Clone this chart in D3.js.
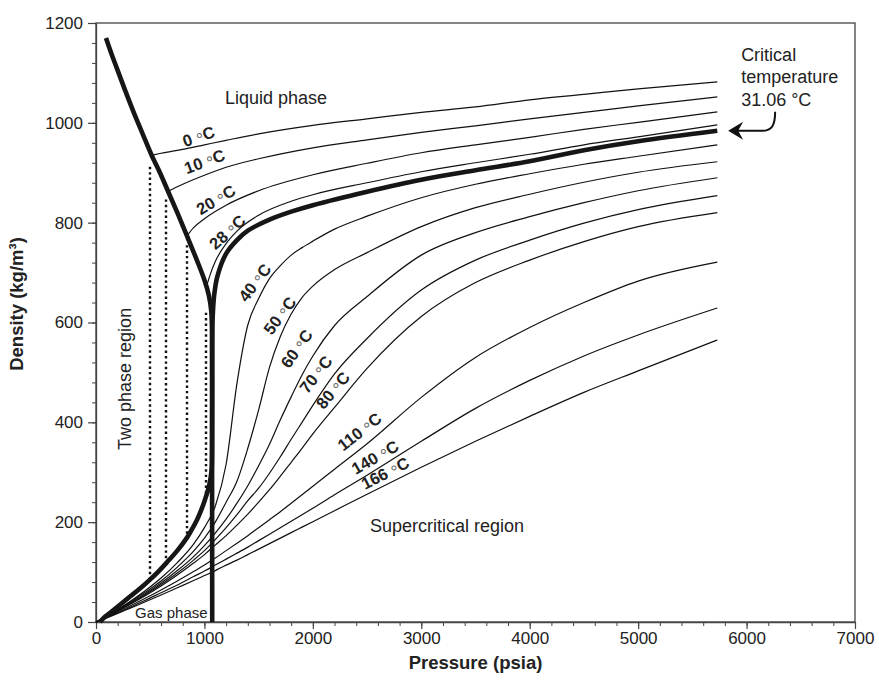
<!DOCTYPE html>
<html><head><meta charset="utf-8">
<script src="https://cdn.jsdelivr.net/npm/d3@7"></script>
<style>
body{margin:0;background:#fff;}
text{font-family:"Liberation Sans",Arial,Helvetica,sans-serif;fill:#222;}
</style></head><body>
<svg id="chart" width="879" height="684"></svg>
<script>
// pressures (psia) for the supercritical isotherms
var pressures=[0,150,300,450,600,750,900,1000,1100,1200,1300,1400,1500,1600,1700,1800,1900,2000,2200,2500,3000,3500,4000,4500,5000,5730];
var rho40=[0,18.5,39,62,88,119,156,189,232,316,478,595,648,688,714,735,750,763,787,813,850,877,898,917,933,956];
var rho50=[0,17.8,37.5,59,82,110,142,168,200,240,282,348,425,510,572,617,650,673,706,740,792,830,857,881,901,922];
var rho60=[0,17.2,36,56,78,103,131,153,178,206,238,273,313,356,405,451,495,533,594,652,735,780,812,840,864,890];
var rho70=[0,16.7,34.8,54,75,98,124,143,165,189,215,243,268,298,331,366,400,434,497,568,665,725,765,799,826,854];
var rho80=[0,16.1,33.5,52,72,94,118,135,154,173,194,216,240,265,292,320,348,377,430,508,612,680,725,762,792,820];
var rho110=[0,14.8,30.6,47,64,82,101,114,128,143,158,173,189,205,221,238,255,272,306,357,450,530,590,640,683,721];
var rho140=[0,13.7,28.2,43,58.5,74,91,102,114,126,138,150,163,176,189,202,215,228,255,294,362,428,484,533,575,629];
var rho166=[0,12.8,26.3,40,54,68.5,83,93,103,114,124,135,146,157,168,179,190,201,223,256,310,362,412,460,503,565];
var superSeries=[rho40,rho50,rho60,rho70,rho80,rho110,rho140,rho166];

// liquid isotherms [psia, kg/m3], starting on the saturated liquid line
var liq0=[[513,935],[600,939],[800,947],[1000,956],[1200,965],[1500,978],[2000,995],[2500,1008],[3000,1021],[3500,1032],[4000,1046],[4500,1057],[5000,1068],[5730,1082]];
var liq10=[[666,863],[800,877],[1000,895],[1200,911],[1500,928],[2000,950],[2500,966],[3000,981],[3500,994],[4000,1008],[4500,1021],[5000,1034],[5730,1052]];
var liq20=[[841,774],[900,790],[1000,808],[1200,835],[1500,864],[2000,896],[2500,919],[3000,940],[3500,956],[4000,971],[4500,987],[5000,1001],[5730,1022]];
var liq28=[[1019,672],[1050,694],[1100,722],[1200,758],[1300,783],[1500,815],[1800,843],[2000,856],[2500,880],[3000,902],[3500,920],[4000,937],[4500,956],[5000,972],[5730,996]];
var liqSeries=[liq0,liq10,liq20,liq28];

// critical isotherm 31.06 C
var critIso=[[1072,0],[1072,560],[1076,610],[1090,655],[1120,693],[1200,738],[1300,765],[1400,784],[1600,806],[1800,822],[2000,835],[2500,862],[3000,886],[3500,905],[4000,923],[4500,945],[5000,963],[5730,984]];
// saturation dome: liquid branch down, vapour branch back to origin
var satDome=[[92,1170],[140,1140],[191,1110],[260,1070],[344,1023],[430,978],[513,935],[590,900],[666,862],[750,820],[840,773],[930,725],[1000,685],[1040,655],[1062,625],[1069,595],[1070,560],
  [1070,340],[1066,305],[1052,282],[1030,262],[1005,245],[970,224],[930,204],[880,184],[836,168],[750,143],[652,119],[575,101],[498,85],[400,66],[314,51],[230,36],[150,22],[80,10],[37,0]];
// tie lines: psia, vapour density, liquid density
var tieLines=[[498,85,918],[645,117,852],[838,166,758],[1010,247,622]];

var xTicks=d3.range(0,7001,1000);
var yTicks=d3.range(0,1201,200);

// label names and where they sit (data units, angle)
var isoLabels=[["0",959,965,-19],["10",1014,915,-20],["20",1125,839,-31],["28",1236,775,-42],
  ["40",1494,675,-53],["50",1725,609,-53],["60",1881,543,-55],["70",2057,491,-52],
  ["80",2213,459,-50],["110",2453,375,-38],["140",2592,323,-30],["166",2684,291,-27]];

var svg=d3.select("#chart");
var x=d3.scaleLinear().domain([0,7000]).range([96,855]);
var y=d3.scaleLinear().domain([0,1200]).range([622,23]);

var smooth=d3.line().x(function(d){return x(d[0]);}).y(function(d){return y(d[1]);}).curve(d3.curveMonotoneX);
var loose=d3.line().x(function(d){return x(d[0]);}).y(function(d){return y(d[1]);}).curve(d3.curveCatmullRom.alpha(0.5));

// frame
svg.append("rect").attr("x",x(0)).attr("y",y(1200)).attr("width",x(7000)-x(0)).attr("height",y(0)-y(1200))
  .attr("fill","none").attr("stroke","#444").attr("stroke-width",1.3);

// minor ticks
svg.append("g").attr("transform","translate(0,"+y(0)+")")
  .call(d3.axisBottom(x).tickValues(d3.range(0,7001,200)).tickSize(4).tickFormat(""))
  .call(function(g){g.select(".domain").remove();g.selectAll("line").attr("stroke","#444");});
svg.append("g").attr("transform","translate("+x(0)+",0)")
  .call(d3.axisLeft(y).tickValues(d3.range(0,1201,40)).tickSize(4).tickFormat(""))
  .call(function(g){g.select(".domain").remove();g.selectAll("line").attr("stroke","#444");});

var xa=svg.append("g").attr("transform","translate(0,"+y(0)+")")
  .call(d3.axisBottom(x).tickValues(xTicks).tickSize(7).tickPadding(3).tickSizeOuter(0).tickFormat(d3.format("d")));
var ya=svg.append("g").attr("transform","translate("+x(0)+",0)")
  .call(d3.axisLeft(y).tickValues(yTicks).tickSize(8).tickPadding(5).tickSizeOuter(0).tickFormat(d3.format("d")));
[xa,ya].forEach(function(a){
  a.select(".domain").attr("stroke","#444").attr("stroke-width",1.3);
  a.selectAll("line").attr("stroke","#444").attr("stroke-width",1.2);
  a.selectAll("text").style("font-size","17px").style("font-family","Liberation Sans,Arial,sans-serif").attr("fill","#222");
});

// thin isotherms
superSeries.forEach(function(s){
  svg.append("path").datum(pressures.map(function(p,i){return [p,s[i]];}))
    .attr("d",smooth).attr("fill","none").attr("stroke","#111").attr("stroke-width",1.2);
});
liqSeries.forEach(function(s){
  svg.append("path").datum(s).attr("d",smooth).attr("fill","none").attr("stroke","#111").attr("stroke-width",1.2);
});

// dotted tie lines
svg.selectAll(".tie").data(tieLines).enter().append("line").attr("class","tie")
  .attr("x1",function(d){return Math.round(x(d[0]));}).attr("x2",function(d){return Math.round(x(d[0]));})
  .attr("y1",function(d){return y(d[1]);}).attr("y2",function(d){return y(d[2]);})
  .attr("stroke","#111").attr("stroke-width",2.4).attr("stroke-dasharray","2.4,3");

// thick curves
svg.append("path").datum(satDome).attr("d",loose).attr("fill","none").attr("stroke","#161616").attr("stroke-width",4.6).attr("stroke-linejoin","round");
svg.append("path").datum(critIso).attr("d",loose).attr("fill","none").attr("stroke","#161616").attr("stroke-width",4.6);

// isotherm labels
isoLabels.forEach(function(l){
  var t=svg.append("text").attr("text-anchor","middle")
    .attr("transform","translate("+x(l[1])+","+y(l[2])+") rotate("+l[3]+") translate(0,-4)")
    .attr("dy","0.35em").style("font-size","16.5px").style("font-weight","bold");
  t.append("tspan").text(l[0]+" ");
  t.append("tspan").text("\u00b0").attr("dy",3.5).style("font-weight","normal").style("font-size","18px").style("fill","#666");
  t.append("tspan").text("C").attr("dy",-3.5);
});

// region texts
function note(txt,p,d,size,anchor,rot){
  var t=svg.append("text").text(txt).style("font-size",size+"px").attr("text-anchor",anchor||"start");
  if(rot) t.attr("transform","translate("+x(p)+","+y(d)+") rotate("+rot+")");
  else t.attr("x",x(p)).attr("y",y(d));
  return t;
}
note("Liquid phase",1190,1037,18);
note("Supercritical region",2527,181,18);
note("Gas phase",360,9,15);
note("Two phase region",323,487,18,"middle",-90);

// critical temperature callout
var tx=x(5830), ty=y(984);
["Critical","temperature","31.06 \u00b0C"].forEach(function(s,i){
  svg.append("text").text(s).attr("x",tx+13).attr("y",ty-70+i*22.5).style("font-size","18px");
});
svg.append("path").attr("d","M"+(tx+8)+","+ty+" L"+(tx+34)+","+ty+" C"+(tx+44)+","+ty+" "+(tx+47)+","+(ty-6)+" "+(tx+47)+","+(ty-19))
  .attr("fill","none").attr("stroke","#111").attr("stroke-width",2);
svg.append("path").attr("d","M"+tx+","+ty+" L"+(tx+15)+","+(ty-9)+" L"+(tx+10)+","+ty+" L"+(tx+15)+","+(ty+9)+" Z").attr("fill","#111");

// axis titles
svg.append("text").text("Pressure (psia)").attr("x",(x(0)+x(7000))/2).attr("y",669)
  .attr("text-anchor","middle").style("font-size","18.5px").style("font-weight","bold");
svg.append("text").attr("transform","translate(23,304) rotate(-90)").attr("text-anchor","middle")
  .style("font-size","18.5px").style("font-weight","bold").text("Density (kg/m\u00b3)");
</script>
</body></html>
